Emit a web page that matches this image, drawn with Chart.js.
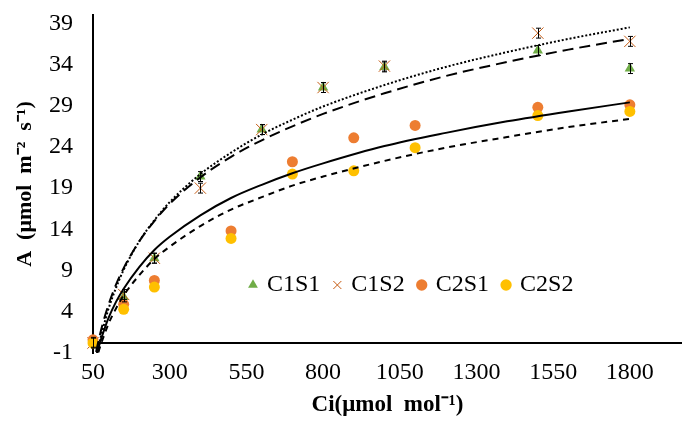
<!DOCTYPE html>
<html>
<head>
<meta charset="utf-8">
<script src="https://cdn.jsdelivr.net/npm/chart.js@4/dist/chart.umd.min.js"></script>
<style>
html,body{margin:0;padding:0;background:#fff;}
canvas{display:block;}
</style>
</head>
<body>
<canvas id="c" width="691" height="421"></canvas>
<script>
// ---- data ----
const seriesNames = ['C1S1', 'C1S2', 'C2S1', 'C2S2'];
const xC1 = [50, 150, 250, 400, 600, 800, 1000, 1500, 1800];
const xC2 = [50, 150, 250, 500, 700, 900, 1100, 1500, 1800];
const c1s1 = [0.3, 5.8, 10.5, 20.4, 26.1, 31.2, 33.7, 35.7, 33.5];
const c1s2 = [0.2, 6.1, 10.5, 19.0, 26.1, 31.2, 33.8, 37.8, 36.8];
const c2s1 = [0.6, 4.9, 7.8, 13.8, 22.2, 25.1, 26.6, 28.8, 29.1];
const c2s2 = [0.2, 4.3, 7.0, 12.9, 20.7, 21.1, 23.9, 27.8, 28.3];
const errC1S1 = [0.6, 0.6, 0.6, 0.6, 0.6, 0.6, 0.6, 0.6, 0.6];
const errC1S2 = [0.6, 0.6, 0.6, 0.6, 0.6, 0.6, 0.6, 0.6, 0.6];
// trend-line curves
const trendX = [50, 60, 70, 80, 100, 125, 150, 200, 250, 300, 400, 500, 600, 700, 800, 1000, 1200, 1400, 1600, 1800];
const trendC1S1 = [-2.9, -0.9, 0.8, 2.3, 4.8, 7.3, 9.3, 12.5, 15.0, 17.1, 20.3, 22.8, 24.8, 26.5, 28.0, 30.5, 32.6, 34.3, 35.8, 37.1];
const trendC1S2 = [-3.9, -1.8, 0.1, 1.6, 4.3, 6.9, 9.1, 12.5, 15.1, 17.3, 20.7, 23.3, 25.5, 27.3, 28.9, 31.5, 33.7, 35.5, 37.1, 38.5];
const trendC2S1 = [-3.2, -1.5, -0.1, 1.1, 3.2, 5.2, 6.8, 9.4, 11.5, 13.1, 15.7, 17.8, 19.4, 20.8, 22.0, 24.1, 25.7, 27.1, 28.3, 29.4];
const trendC2S2 = [-3.5, -2.0, -0.6, 0.5, 2.5, 4.4, 6.0, 8.4, 10.4, 11.9, 14.4, 16.4, 17.9, 19.3, 20.4, 22.3, 23.9, 25.2, 26.4, 27.4];
const xTicks = [50, 300, 550, 800, 1050, 1300, 1550, 1800];
const yTicks = [-1, 4, 9, 14, 19, 24, 29, 34, 39];
const xTitle = 'Ci(μmol  mol⁻¹)';
const yTitle = 'A  (μmol  m⁻²  s⁻¹)';

const pts = (xs, ys) => xs.map((x, i) => ({x: x, y: ys[i]}));
const serif = "'Liberation Serif', 'Times New Roman', serif";

Chart.defaults.color = '#000';
Chart.defaults.font.family = serif;

const errorSets = {0: errC1S1, 1: errC1S2};

const helperPlugin = {
  id: 'helperPlugin',
  afterLayout(chart) {
    const lg = chart.legend;
    if (lg) {
      lg.top = 258; lg.height = 60; lg.bottom = lg.top + lg.height;
      lg.left = 236; lg.width = 520; lg.right = lg.left + lg.width;
    }
  },
  beforeDatasetsDraw(chart) {
    const ctx = chart.ctx, ys = chart.scales.y, a = chart.chartArea;
    const y0 = Math.floor(ys.getPixelForValue(0)) - 1;
    ctx.save();
    ctx.strokeStyle = '#000';
    ctx.lineWidth = 2;
    ctx.beginPath();
    ctx.moveTo(a.left, y0);
    ctx.lineTo(a.right, y0);
    ctx.stroke();
    ctx.restore();
  },
  afterDatasetsDraw(chart) {
    const ctx = chart.ctx, xs = chart.scales.x, ys = chart.scales.y;
    ctx.save();
    ctx.strokeStyle = '#000';
    ctx.lineWidth = 1;
    Object.keys(errorSets).forEach(k => {
      const ds = chart.data.datasets[k];
      const err = errorSets[k];
      ds.data.forEach((p, i) => {
        const px = Math.round(xs.getPixelForValue(p.x)) + 0.5;
        const t = ys.getPixelForValue(p.y + err[i]);
        const b = ys.getPixelForValue(p.y - err[i]);
        ctx.beginPath();
        ctx.moveTo(px, t); ctx.lineTo(px, b);
        ctx.moveTo(px - 2.5, t); ctx.lineTo(px + 2.5, t);
        ctx.moveTo(px - 2.5, b); ctx.lineTo(px + 2.5, b);
        ctx.stroke();
      });
    });
    ctx.restore();
  }
};

const trendStyle = (data, dash, name) => ({
  label: name + ' trend',
  data: data,
  showLine: true,
  borderColor: '#000',
  backgroundColor: '#000',
  borderWidth: 2,
  borderDash: dash,
  pointRadius: 0,
  cubicInterpolationMode: 'monotone',
  order: 0
});

new Chart(document.getElementById('c'), {
  type: 'scatter',
  data: {
    datasets: [
      {label: seriesNames[0], data: pts(xC1, c1s1), pointStyle: 'triangle', pointRadius: 6,
       backgroundColor: '#70AD47', borderColor: '#70AD47', borderWidth: 0, order: 4, clip: false},
      {label: seriesNames[1], data: pts(xC1, c1s2), pointStyle: 'crossRot', pointRadius: 8,
       backgroundColor: '#C55A11', borderColor: '#C55A11', borderWidth: 1, order: 3, clip: false},
      {label: seriesNames[2], data: pts(xC2, c2s1), pointStyle: 'circle', pointRadius: 5.5,
       backgroundColor: '#ED7D31', borderColor: '#ED7D31', borderWidth: 0, order: 2, clip: false},
      {label: seriesNames[3], data: pts(xC2, c2s2), pointStyle: 'circle', pointRadius: 5.5,
       backgroundColor: '#FFC000', borderColor: '#FFC000', borderWidth: 0, order: 1, clip: false},
      trendStyle(pts(trendX, trendC1S1), [11, 6], seriesNames[0]),
      trendStyle(pts(trendX, trendC1S2), [2, 2], seriesNames[1]),
      trendStyle(pts(trendX, trendC2S1), [], seriesNames[2]),
      trendStyle(pts(trendX, trendC2S2), [6, 5], seriesNames[3])
    ]
  },
  options: {
    responsive: false,
    animation: false,
    devicePixelRatio: 1,
    events: [],
    layout: {padding: {top: 14, right: 0, bottom: 0, left: 0}},
    scales: {
      x: {
        type: 'linear', min: 50, max: 1970,
        grid: {display: false, drawTicks: false},
        border: {display: false},
        afterBuildTicks: s => { s.ticks = xTicks.map(v => ({value: v})); },
        afterFit: s => { s.height = 68; s.paddingLeft = 0; s.paddingRight = 0; },
        ticks: {autoSkip: false, maxRotation: 0, padding: 5, color: '#000',
                font: {family: serif, size: 24}, callback: v => String(v)},
        title: {display: true, text: xTitle, color: '#000',
                font: {family: serif, size: 23, weight: 'bold'}, padding: {top: 0, bottom: 2}}
      },
      y: {
        type: 'linear', min: -1, max: 40,
        grid: {display: false, drawTicks: false},
        border: {display: true, color: '#000', width: 2},
        afterBuildTicks: s => { s.ticks = yTicks.map(v => ({value: v})); },
        afterFit: s => { s.width = 93; s.paddingTop = 0; s.paddingBottom = 0; },
        ticks: {padding: 20, color: '#000', font: {family: serif, size: 24}, callback: v => String(v)},
        title: {display: true, text: yTitle, color: '#000',
                font: {family: serif, size: 22, weight: 'bold'}, padding: {top: 12, bottom: 0}}
      }
    },
    plugins: {
      tooltip: {enabled: false},
      legend: {
        display: true,
        position: 'top',
        align: 'start',
        maxHeight: 1,
        labels: {
          usePointStyle: true,
          boxWidth: 4,
          boxHeight: 8,
          padding: 15,
          color: '#000',
          font: {family: serif, size: 24},
          filter: item => item.datasetIndex < 4,
          sort: (a, b) => a.datasetIndex - b.datasetIndex
        }
      }
    }
  },
  plugins: [helperPlugin]
});
</script>
</body>
</html>
